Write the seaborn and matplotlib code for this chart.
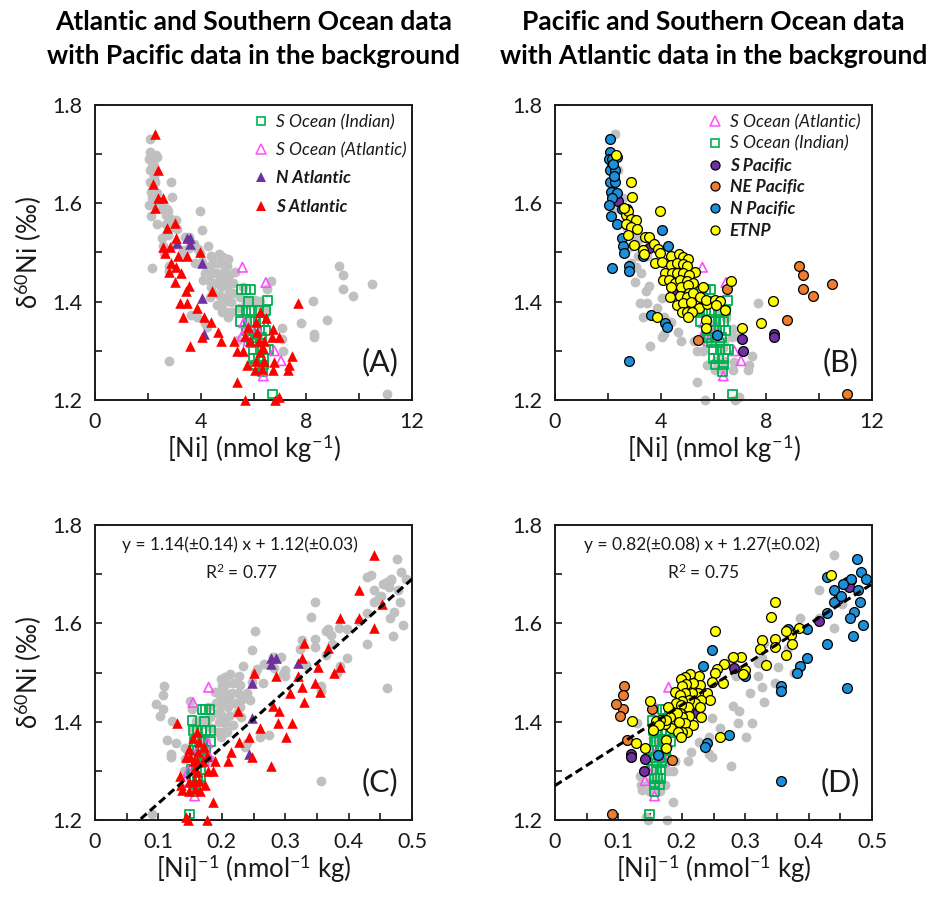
import numpy as np
import matplotlib
matplotlib.use("Agg")
import matplotlib.pyplot as plt
from matplotlib.lines import Line2D
import seaborn as sns

# ---------------- data: [Ni] (nmol/kg) and d60Ni (permil) ----------------
# South Atlantic
s_atl_ni = [2.27, 2.40, 2.21, 2.40, 2.59, 2.27, 2.72, 3.03, 3.07, 2.59,
            2.84, 2.65, 3.13, 3.50, 2.88, 3.07, 2.82, 3.25, 3.03, 3.57,
            3.45, 3.98, 4.42, 3.22, 3.47, 3.85, 3.32, 4.11, 4.40, 4.65,
            4.04, 4.77, 3.60, 5.27, 5.37, 5.62, 5.75, 5.37, 5.68, 6.04,
            6.23, 6.48, 5.81, 6.09, 5.85, 6.19, 6.38, 6.73, 6.69, 6.95,
            6.23, 6.09, 6.38, 6.76, 7.45, 7.35, 7.29, 6.73, 6.32, 7.70,
            6.95, 6.82, 5.66, 6.13, 6.35]
s_atl_d = [1.740, 1.668, 1.639, 1.610, 1.610, 1.590, 1.549, 1.559, 1.529, 1.511,
           1.512, 1.498, 1.492, 1.492, 1.479, 1.471, 1.461, 1.459, 1.441, 1.431,
           1.422, 1.500, 1.422, 1.398, 1.398, 1.388, 1.368, 1.369, 1.359, 1.339,
           1.329, 1.321, 1.310, 1.321, 1.300, 1.300, 1.271, 1.237, 1.199, 1.260,
           1.378, 1.367, 1.348, 1.358, 1.321, 1.319, 1.319, 1.344, 1.329, 1.329,
           1.298, 1.280, 1.280, 1.278, 1.289, 1.271, 1.261, 1.260, 1.264, 1.397,
           1.207, 1.200, 1.330, 1.339, 1.305]

# North Atlantic
n_atl_ni = [3.12, 3.50, 3.60, 3.60, 4.04, 4.04, 4.11]
n_atl_d = [1.519, 1.529, 1.529, 1.517, 1.479, 1.407, 1.334]

# Southern Ocean (Indian sector)
so_ind_ni = [5.55, 5.72, 5.90, 5.80, 6.54, 5.49, 5.72, 5.93, 6.18, 6.47,
             5.49, 5.87, 6.06, 6.25, 6.40, 5.72, 6.00, 6.22, 6.44, 5.80,
             6.06, 6.31, 5.93, 6.25, 6.00, 6.25, 6.44, 6.56, 6.00, 6.18,
             6.37, 6.06, 6.37, 6.35, 6.72]
so_ind_d = [1.425, 1.425, 1.425, 1.400, 1.402, 1.382, 1.382, 1.382, 1.382, 1.382,
            1.359, 1.359, 1.359, 1.359, 1.359, 1.342, 1.342, 1.342, 1.342, 1.327,
            1.327, 1.327, 1.316, 1.316, 1.303, 1.303, 1.303, 1.303, 1.285, 1.285,
            1.285, 1.271, 1.271, 1.258, 1.212]

# Southern Ocean (Atlantic sector)
so_atl_ni = [5.58, 6.47, 5.63, 6.12, 5.56, 5.79, 6.79, 7.04, 6.37]
so_atl_d = [1.470, 1.439, 1.357, 1.348, 1.330, 1.320, 1.300, 1.280, 1.249]

# South Pacific
s_pac_ni = [2.14, 2.17, 2.19, 2.16, 2.24, 2.40, 3.55, 4.45, 7.07, 7.11, 8.30, 8.30]
s_pac_d = [1.688, 1.685, 1.679, 1.673, 1.649, 1.605, 1.510, 1.417, 1.325, 1.300, 1.334, 1.329]

# North-East Pacific
ne_pac_ni = [9.25, 9.37, 9.37, 9.75, 10.47, 8.77, 6.52, 11.07, 5.42]
ne_pac_d = [1.473, 1.454, 1.425, 1.411, 1.435, 1.363, 1.425, 1.212, 1.323]

# North Pacific
n_pac_ni = [2.10, 2.07, 2.04, 2.14, 2.33, 2.09, 2.27, 2.08, 2.27, 2.12,
            2.33, 2.15, 2.06, 2.13, 2.52, 2.72, 2.33, 2.52, 2.59, 4.04,
            4.29, 2.62, 2.80, 2.81, 2.17, 3.34, 3.65, 4.16, 4.23, 2.80,
            5.71, 6.14, 2.20, 2.22]
n_pac_d = [1.731, 1.705, 1.690, 1.690, 1.695, 1.668, 1.668, 1.644, 1.644, 1.624,
           1.622, 1.610, 1.597, 1.574, 1.588, 1.588, 1.558, 1.529, 1.513, 1.546,
           1.513, 1.499, 1.472, 1.462, 1.468, 1.493, 1.372, 1.357, 1.349, 1.280,
           1.398, 1.332, 1.680, 1.655]

# Eastern Tropical North Pacific
etnp_ni = [2.30, 2.88, 2.93, 3.97, 2.69, 2.75, 2.88, 3.07, 2.68, 2.88,
           3.09, 2.75, 3.00, 3.41, 3.56, 3.34, 3.76, 3.91, 3.97, 3.78,
           4.04, 4.39, 4.69, 4.86, 5.02, 4.38, 4.61, 4.83, 5.01, 5.30,
           4.16, 4.42, 4.63, 4.86, 5.08, 4.10, 4.33, 4.54, 4.73, 4.98,
           5.23, 5.59, 4.38, 4.77, 5.05, 5.08, 4.35, 4.73, 4.98, 5.21,
           5.49, 4.61, 4.86, 5.13, 5.46, 5.77, 4.79, 4.98, 5.17, 5.05,
           3.85, 5.71, 6.06, 6.25, 6.09, 6.44, 6.65, 5.72, 5.71, 7.07,
           8.27, 7.80, 3.37, 2.60]
etnp_d = [1.698, 1.643, 1.613, 1.584, 1.576, 1.585, 1.569, 1.567, 1.558, 1.551,
          1.548, 1.536, 1.515, 1.532, 1.532, 1.505, 1.518, 1.508, 1.498, 1.479,
          1.481, 1.493, 1.497, 1.490, 1.486, 1.474, 1.479, 1.477, 1.472, 1.461,
          1.458, 1.459, 1.459, 1.459, 1.454, 1.444, 1.444, 1.437, 1.444, 1.443,
          1.437, 1.429, 1.430, 1.430, 1.434, 1.417, 1.409, 1.411, 1.410, 1.417,
          1.410, 1.393, 1.398, 1.400, 1.388, 1.395, 1.380, 1.380, 1.380, 1.369,
          1.369, 1.403, 1.403, 1.402, 1.393, 1.383, 1.443, 1.363, 1.346, 1.346,
          1.401, 1.356, 1.497, 1.590]

# Regression fits shown in the lower panels (slope, intercept)
fit_atl = (1.14, 1.12)
fit_pac = (0.82, 1.27)
eq_atl = "y = 1.14(\u00b10.14) x + 1.12(\u00b10.03)"
eq_pac = "y = 0.82(\u00b10.08) x + 1.27(\u00b10.02)"
r2_atl = "R$^2$ = 0.77"
r2_pac = "R$^2$ = 0.75"

titles = ["Atlantic and Southern Ocean data\nwith Pacific data in the background",
          "Pacific and Southern Ocean data\nwith Atlantic data in the background"]

# ---------------- style ----------------
sns.set_theme(style="white")
plt.rcParams["font.family"] = ["Lato", "DejaVu Sans"]
plt.rcParams["mathtext.fontset"] = "custom"
plt.rcParams["mathtext.rm"] = "Lato"
plt.rcParams["mathtext.it"] = "Lato:italic"
plt.rcParams["mathtext.bf"] = "Lato:bold"

GRAY = "#C0C0C0"
RED = "#FF0000"
PURPLE = "#7030A0"
GREEN = "#00B050"
PINK = "#FF4DFF"
ORANGE = "#ED7D31"
BLUE = "#1C8FD8"
YELLOW = "#FFFF00"
INK = "#1a1a1a"

fig = plt.figure(figsize=(9.32, 8.99), dpi=100)
W, H = 932.0, 899.0


def make_ax(left, top):
    return fig.add_axes([left / W, 1 - (top + 295) / H, 317 / W, 295 / H])


axA = make_ax(95, 105)
axB = make_ax(555, 105)
axC = make_ax(95, 525)
axD = make_ax(555, 525)


def inv(v):
    return 1.0 / np.asarray(v, dtype=float)


def ident(v):
    return np.asarray(v, dtype=float)


def pts(ax, x, y, marker, color, s, open_=False, edge=None, lw=0.0, z=3):
    kw = dict(x=np.asarray(x, dtype=float), y=np.asarray(y, dtype=float), ax=ax,
              marker=marker, s=s, legend=False, clip_on=False, zorder=z)
    if open_:
        kw.update(color=color, facecolor="none", edgecolor=color, linewidth=lw)
    else:
        kw.update(color=color, edgecolor=edge if edge else color, linewidth=lw)
    sns.scatterplot(**kw)


pac_ni = s_pac_ni + ne_pac_ni + n_pac_ni + etnp_ni
pac_d = s_pac_d + ne_pac_d + n_pac_d + etnp_d
atl_ni = s_atl_ni + n_atl_ni
atl_d = s_atl_d + n_atl_d

S_BG = 50
S_TRI = 58
S_SQ = 40
S_CIR = 50


def atlantic_panel(ax, tx):
    pts(ax, tx(pac_ni), pac_d, "o", GRAY, S_BG, z=2)
    pts(ax, tx(so_ind_ni), so_ind_d, "s", GREEN, S_SQ, open_=True, lw=1.3, z=3)
    pts(ax, tx(so_atl_ni), so_atl_d, "^", PINK, S_TRI * 0.8, open_=True, lw=1.2, z=4)
    pts(ax, tx(n_atl_ni), n_atl_d, "^", PURPLE, S_TRI, z=5)
    pts(ax, tx(s_atl_ni), s_atl_d, "^", RED, S_TRI, z=6)


def pacific_panel(ax, tx):
    pts(ax, tx(atl_ni), atl_d, "o", GRAY, S_BG, z=2)
    pts(ax, tx(so_atl_ni), so_atl_d, "^", PINK, S_TRI * 0.8, open_=True, lw=1.2, z=3)
    pts(ax, tx(so_ind_ni), so_ind_d, "s", GREEN, S_SQ, open_=True, lw=1.3, z=4)
    pts(ax, tx(s_pac_ni), s_pac_d, "o", PURPLE, S_CIR, edge="black", lw=0.9, z=5)
    pts(ax, tx(ne_pac_ni), ne_pac_d, "o", ORANGE, S_CIR, edge="black", lw=0.9, z=6)
    pts(ax, tx(n_pac_ni), n_pac_d, "o", BLUE, S_CIR, edge="black", lw=0.9, z=7)
    pts(ax, tx(etnp_ni), etnp_d, "o", YELLOW, S_CIR, edge="black", lw=0.9, z=8)


atlantic_panel(axA, ident)
pacific_panel(axB, ident)
atlantic_panel(axC, inv)
pacific_panel(axD, inv)

# regression lines from the stated fits
xfit = np.array([0.0, 0.5])
for ax, (m, b) in ((axC, fit_atl), (axD, fit_pac)):
    sns.lineplot(x=xfit, y=m * xfit + b, ax=ax, color="black", lw=2.2, zorder=9)
    ax.lines[-1].set_dashes((2.6, 1.4))

# ---------------- axes formatting ----------------
TICK_FS = 15.5
LABEL_FS = 18.5
for ax in (axA, axB, axC, axD):
    ax.set_ylim(1.2, 1.8)
    ax.set_yticks(np.round(np.arange(1.2, 1.81, 0.1), 2))
    ax.set_yticklabels(["1.2", "", "1.4", "", "1.6", "", "1.8"])
    for sp in ax.spines.values():
        sp.set_visible(True)
        sp.set_color(INK)
        sp.set_linewidth(1.4)
    ax.tick_params(direction="in", length=5, width=1.2, color=INK,
                   labelsize=TICK_FS, pad=9, top=False, right=False,
                   left=True, bottom=True, labelcolor=INK)
    ax.grid(False)
    ax.set_xlabel("")
    ax.set_ylabel("")

for ax in (axA, axB):
    ax.set_xlim(0, 12)
    ax.set_xticks(np.arange(0, 12.1, 2))
    ax.set_xticklabels(["0", "", "4", "", "8", "", "12"])
    ax.set_xlabel("[Ni] (nmol kg$^{-1}$)", fontsize=LABEL_FS, labelpad=0, color=INK)

for ax in (axC, axD):
    ax.set_xlim(0, 0.5)
    ax.set_xticks(np.round(np.arange(0, 0.501, 0.05), 2))
    ax.set_xticklabels(["0", "", "0.1", "", "0.2", "", "0.3", "", "0.4", "", "0.5"])
    ax.set_xlabel("[Ni]$^{-1}$ (nmol$^{-1}$ kg)", fontsize=LABEL_FS, labelpad=0, color=INK)

for ax in (axA, axC):
    ax.set_ylabel("\u03b4$^{60}$Ni (\u2030)", fontsize=LABEL_FS, labelpad=6, color=INK)

for ax, letter in ((axA, "(A)"), (axB, "(B)"), (axC, "(C)"), (axD, "(D)")):
    ax.text(0.9, 0.13, letter, transform=ax.transAxes, fontsize=22,
            ha="center", va="center", color=INK)

for ax, eq, r2, cx in ((axC, eq_atl, r2_atl, 0.457), (axD, eq_pac, r2_pac, 0.464)):
    ax.text(cx, 0.932, eq, transform=ax.transAxes, fontsize=12.5,
            ha="center", va="center", zorder=10, color=INK)
    ax.text(cx + 0.005, 0.84, r2, transform=ax.transAxes, fontsize=12.5,
            ha="center", va="center", zorder=10, color=INK)


# ---------------- legends ----------------
def h(marker, face, edge, ms, mew):
    return Line2D([], [], linestyle="none", marker=marker, markerfacecolor=face,
                  markeredgecolor=edge, markersize=ms, markeredgewidth=mew)


legA = [
    (h("s", "none", GREEN, 6, 1.2), "S Ocean (Indian)", False),
    (h("^", "none", PINK, 6.5, 1.1), "S Ocean (Atlantic)", False),
    (h("^", PURPLE, PURPLE, 7, 0), "N Atlantic", True),
    (h("^", RED, RED, 7, 0), "S Atlantic", True),
]
legB = [
    (h("^", "none", PINK, 6.5, 1.1), "S Ocean (Atlantic)", False),
    (h("s", "none", GREEN, 6, 1.2), "S Ocean (Indian)", False),
    (h("o", PURPLE, "black", 6.5, 0.9), "S Pacific", True),
    (h("o", ORANGE, "black", 6.5, 0.9), "NE Pacific", True),
    (h("o", BLUE, "black", 6.5, 0.9), "N Pacific", True),
    (h("o", YELLOW, "black", 6.5, 0.9), "ETNP", True),
]

for ax, items, anchor, spacing in ((axA, legA, (0.47, 1.005), 0.7),
                                   (axB, legB, (0.45, 1.005), 0.33)):
    leg = ax.legend([it[0] for it in items], [it[1] for it in items],
                    loc="upper left", bbox_to_anchor=anchor, frameon=False,
                    fontsize=12.5, handlelength=0.8, handletextpad=0.45,
                    labelspacing=spacing, borderaxespad=0.2)
    for txt, it in zip(leg.get_texts(), items):
        txt.set_fontstyle("italic")
        txt.set_color(INK)
        if it[2]:
            txt.set_fontweight("bold")

# ---------------- titles ----------------
for ax, t in ((axA, titles[0]), (axB, titles[1])):
    cx = ax.get_position().x0 + ax.get_position().width / 2
    fig.text(cx, 1 - 39 / H, t, ha="center", va="center", fontsize=19,
             fontweight="bold", linespacing=1.5, color="black")

fig.savefig("out.png", dpi=100)
